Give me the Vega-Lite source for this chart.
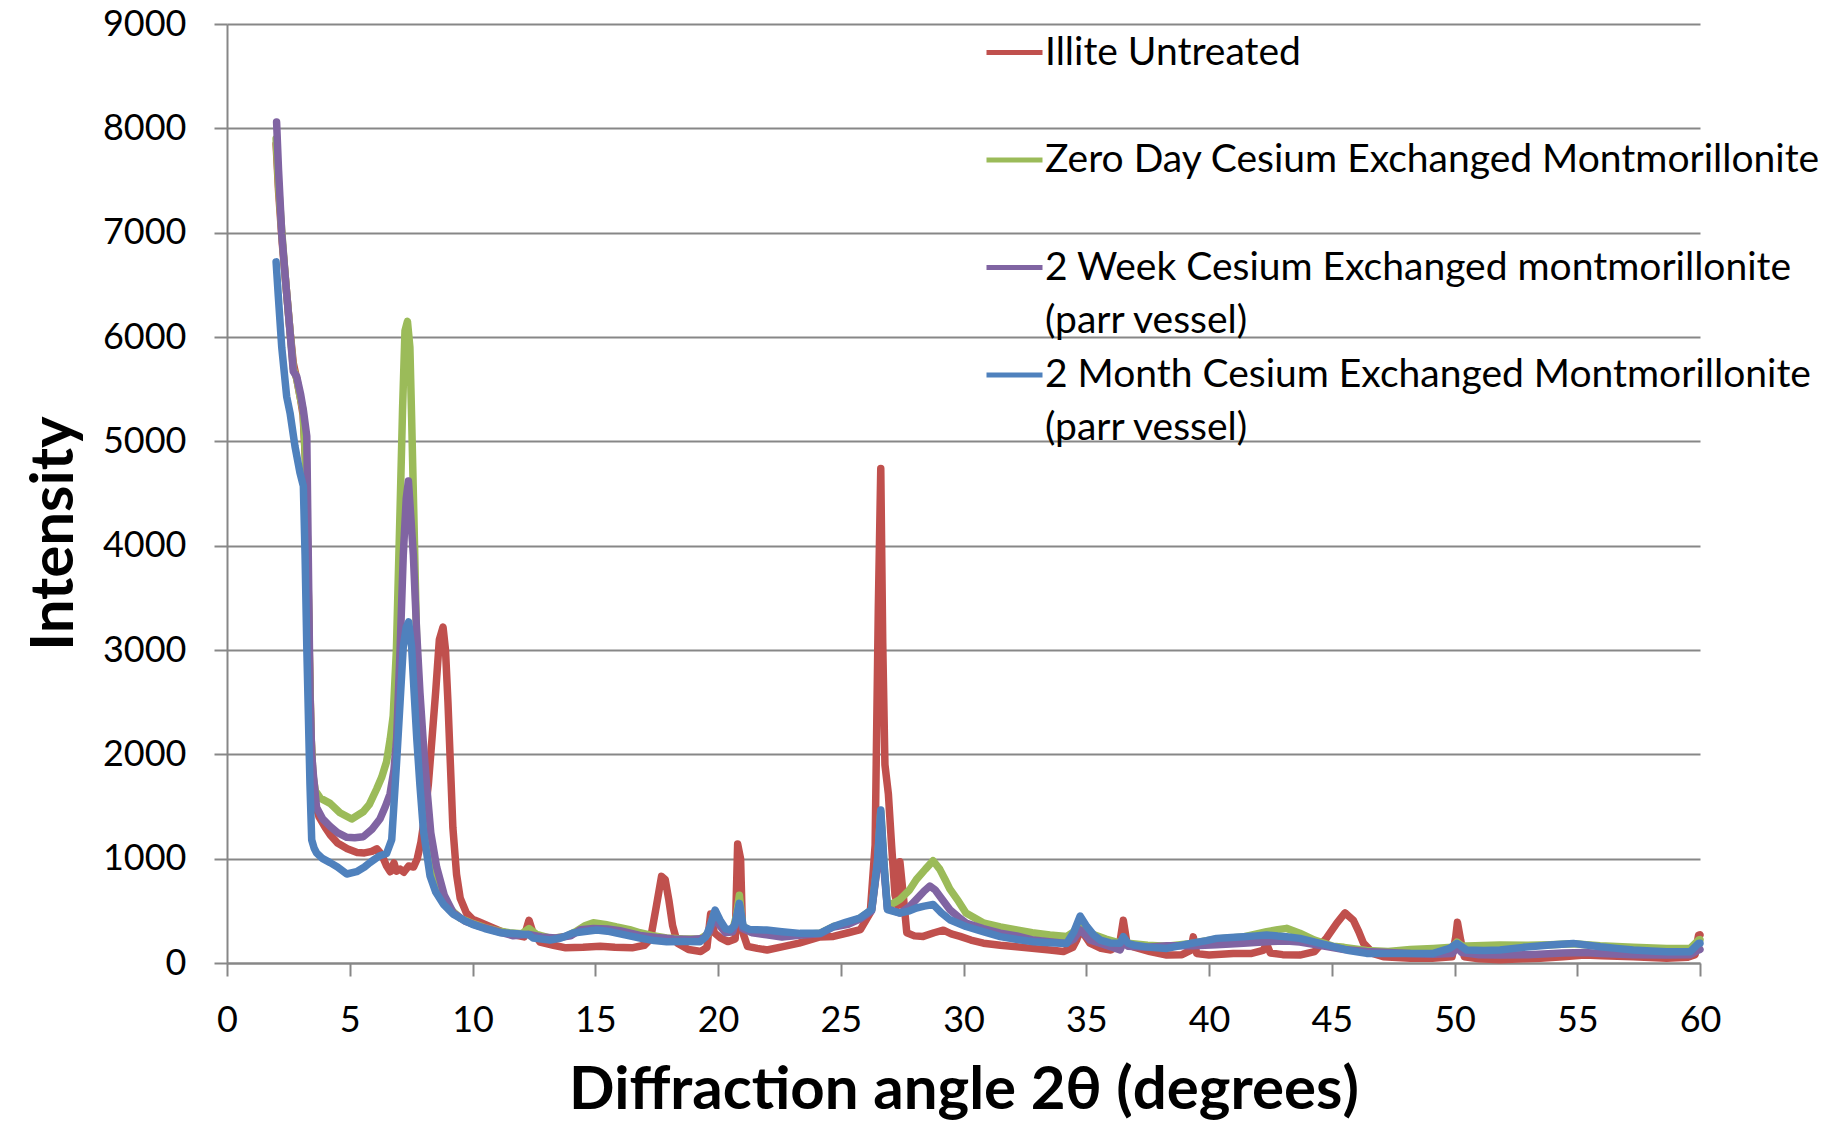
{
  "$schema": "https://vega.github.io/schema/vega-lite/v6.json",
  "width": 1473,
  "height": 939,
  "autosize": {"type": "none"},
  "padding": {"left": 227, "top": 24, "right": 147, "bottom": 158},
  "background": "white",
  "config": {
    "view": {"stroke": null},
    "style": {"guide-label": {"lineHeight": 53}}
  },
  "data": {"values": [
    {"s":"Illite Untreated","x":2.0,"y":7850},{"s":"Illite Untreated","x":2.1,"y":7400},{"s":"Illite Untreated","x":2.25,"y":6900},{"s":"Illite Untreated","x":2.4,"y":6500},{"s":"Illite Untreated","x":2.57,"y":6050},{"s":"Illite Untreated","x":2.7,"y":5750},{"s":"Illite Untreated","x":2.84,"y":5600},{"s":"Illite Untreated","x":3.0,"y":5400},{"s":"Illite Untreated","x":3.1,"y":5250},{"s":"Illite Untreated","x":3.2,"y":4800},{"s":"Illite Untreated","x":3.28,"y":4000},{"s":"Illite Untreated","x":3.35,"y":3000},{"s":"Illite Untreated","x":3.42,"y":2200},{"s":"Illite Untreated","x":3.5,"y":1750},{"s":"Illite Untreated","x":3.6,"y":1520},{"s":"Illite Untreated","x":3.75,"y":1400},{"s":"Illite Untreated","x":4.0,"y":1300},{"s":"Illite Untreated","x":4.2,"y":1230},{"s":"Illite Untreated","x":4.5,"y":1150},{"s":"Illite Untreated","x":4.9,"y":1095},{"s":"Illite Untreated","x":5.3,"y":1060},{"s":"Illite Untreated","x":5.6,"y":1055},{"s":"Illite Untreated","x":5.9,"y":1070},{"s":"Illite Untreated","x":6.1,"y":1095},{"s":"Illite Untreated","x":6.3,"y":1040},{"s":"Illite Untreated","x":6.5,"y":930},{"s":"Illite Untreated","x":6.65,"y":875},{"s":"Illite Untreated","x":6.8,"y":960},{"s":"Illite Untreated","x":6.9,"y":880},{"s":"Illite Untreated","x":7.05,"y":900},{"s":"Illite Untreated","x":7.2,"y":870},{"s":"Illite Untreated","x":7.4,"y":930},{"s":"Illite Untreated","x":7.6,"y":920},{"s":"Illite Untreated","x":7.75,"y":1000},{"s":"Illite Untreated","x":7.9,"y":1160},{"s":"Illite Untreated","x":8.05,"y":1400},{"s":"Illite Untreated","x":8.2,"y":1710},{"s":"Illite Untreated","x":8.35,"y":2150},{"s":"Illite Untreated","x":8.5,"y":2600},{"s":"Illite Untreated","x":8.65,"y":3100},{"s":"Illite Untreated","x":8.8,"y":3220},{"s":"Illite Untreated","x":8.9,"y":3000},{"s":"Illite Untreated","x":9.0,"y":2500},{"s":"Illite Untreated","x":9.1,"y":1900},{"s":"Illite Untreated","x":9.2,"y":1300},{"s":"Illite Untreated","x":9.35,"y":850},{"s":"Illite Untreated","x":9.5,"y":620},{"s":"Illite Untreated","x":9.75,"y":480},{"s":"Illite Untreated","x":10.0,"y":420},{"s":"Illite Untreated","x":10.3,"y":390},{"s":"Illite Untreated","x":10.7,"y":350},{"s":"Illite Untreated","x":11.2,"y":300},{"s":"Illite Untreated","x":11.7,"y":270},{"s":"Illite Untreated","x":12.1,"y":250},{"s":"Illite Untreated","x":12.3,"y":410},{"s":"Illite Untreated","x":12.45,"y":300},{"s":"Illite Untreated","x":12.75,"y":200},{"s":"Illite Untreated","x":13.3,"y":170},{"s":"Illite Untreated","x":13.8,"y":145},{"s":"Illite Untreated","x":14.5,"y":150},{"s":"Illite Untreated","x":15.2,"y":160},{"s":"Illite Untreated","x":15.8,"y":150},{"s":"Illite Untreated","x":16.5,"y":145},{"s":"Illite Untreated","x":17.0,"y":170},{"s":"Illite Untreated","x":17.25,"y":230},{"s":"Illite Untreated","x":17.5,"y":560},{"s":"Illite Untreated","x":17.7,"y":830},{"s":"Illite Untreated","x":17.85,"y":800},{"s":"Illite Untreated","x":18.0,"y":600},{"s":"Illite Untreated","x":18.15,"y":360},{"s":"Illite Untreated","x":18.35,"y":190},{"s":"Illite Untreated","x":18.8,"y":130},{"s":"Illite Untreated","x":19.3,"y":110},{"s":"Illite Untreated","x":19.55,"y":150},{"s":"Illite Untreated","x":19.7,"y":470},{"s":"Illite Untreated","x":19.85,"y":290},{"s":"Illite Untreated","x":20.1,"y":240},{"s":"Illite Untreated","x":20.4,"y":205},{"s":"Illite Untreated","x":20.7,"y":230},{"s":"Illite Untreated","x":20.8,"y":1140},{"s":"Illite Untreated","x":20.92,"y":1000},{"s":"Illite Untreated","x":21.0,"y":300},{"s":"Illite Untreated","x":21.2,"y":160},{"s":"Illite Untreated","x":21.6,"y":140},{"s":"Illite Untreated","x":22.0,"y":125},{"s":"Illite Untreated","x":22.6,"y":155},{"s":"Illite Untreated","x":23.3,"y":190},{"s":"Illite Untreated","x":24.15,"y":250},{"s":"Illite Untreated","x":24.7,"y":255},{"s":"Illite Untreated","x":25.3,"y":290},{"s":"Illite Untreated","x":25.8,"y":320},{"s":"Illite Untreated","x":26.2,"y":480},{"s":"Illite Untreated","x":26.4,"y":1130},{"s":"Illite Untreated","x":26.53,"y":3400},{"s":"Illite Untreated","x":26.63,"y":4740},{"s":"Illite Untreated","x":26.71,"y":3070},{"s":"Illite Untreated","x":26.8,"y":1900},{"s":"Illite Untreated","x":26.94,"y":1620},{"s":"Illite Untreated","x":27.07,"y":1130},{"s":"Illite Untreated","x":27.21,"y":650},{"s":"Illite Untreated","x":27.32,"y":550},{"s":"Illite Untreated","x":27.41,"y":970},{"s":"Illite Untreated","x":27.55,"y":640},{"s":"Illite Untreated","x":27.69,"y":290},{"s":"Illite Untreated","x":28.0,"y":260},{"s":"Illite Untreated","x":28.36,"y":255},{"s":"Illite Untreated","x":28.8,"y":290},{"s":"Illite Untreated","x":29.18,"y":315},{"s":"Illite Untreated","x":29.5,"y":280},{"s":"Illite Untreated","x":29.86,"y":255},{"s":"Illite Untreated","x":30.3,"y":220},{"s":"Illite Untreated","x":30.81,"y":190},{"s":"Illite Untreated","x":31.5,"y":170},{"s":"Illite Untreated","x":32.17,"y":155},{"s":"Illite Untreated","x":32.8,"y":140},{"s":"Illite Untreated","x":33.52,"y":125},{"s":"Illite Untreated","x":34.07,"y":110},{"s":"Illite Untreated","x":34.45,"y":150},{"s":"Illite Untreated","x":34.61,"y":220},{"s":"Illite Untreated","x":34.81,"y":350},{"s":"Illite Untreated","x":34.95,"y":260},{"s":"Illite Untreated","x":35.15,"y":190},{"s":"Illite Untreated","x":35.6,"y":140},{"s":"Illite Untreated","x":36.0,"y":125},{"s":"Illite Untreated","x":36.35,"y":170},{"s":"Illite Untreated","x":36.51,"y":410},{"s":"Illite Untreated","x":36.65,"y":200},{"s":"Illite Untreated","x":36.92,"y":155},{"s":"Illite Untreated","x":37.6,"y":110},{"s":"Illite Untreated","x":38.28,"y":76},{"s":"Illite Untreated","x":38.9,"y":80},{"s":"Illite Untreated","x":39.25,"y":120},{"s":"Illite Untreated","x":39.36,"y":250},{"s":"Illite Untreated","x":39.5,"y":90},{"s":"Illite Untreated","x":40.0,"y":76},{"s":"Illite Untreated","x":40.99,"y":92},{"s":"Illite Untreated","x":41.7,"y":90},{"s":"Illite Untreated","x":42.2,"y":120},{"s":"Illite Untreated","x":42.35,"y":180},{"s":"Illite Untreated","x":42.5,"y":95},{"s":"Illite Untreated","x":43.0,"y":80},{"s":"Illite Untreated","x":43.7,"y":76},{"s":"Illite Untreated","x":44.3,"y":110},{"s":"Illite Untreated","x":44.79,"y":240},{"s":"Illite Untreated","x":45.2,"y":380},{"s":"Illite Untreated","x":45.54,"y":480},{"s":"Illite Untreated","x":45.88,"y":410},{"s":"Illite Untreated","x":46.1,"y":300},{"s":"Illite Untreated","x":46.29,"y":190},{"s":"Illite Untreated","x":46.7,"y":90},{"s":"Illite Untreated","x":47.1,"y":60},{"s":"Illite Untreated","x":48.2,"y":45},{"s":"Illite Untreated","x":49.1,"y":45},{"s":"Illite Untreated","x":49.9,"y":60},{"s":"Illite Untreated","x":50.05,"y":250},{"s":"Illite Untreated","x":50.12,"y":390},{"s":"Illite Untreated","x":50.25,"y":220},{"s":"Illite Untreated","x":50.4,"y":60},{"s":"Illite Untreated","x":51.0,"y":40},{"s":"Illite Untreated","x":51.85,"y":30},{"s":"Illite Untreated","x":52.8,"y":40},{"s":"Illite Untreated","x":53.5,"y":45},{"s":"Illite Untreated","x":54.43,"y":60},{"s":"Illite Untreated","x":55.3,"y":76},{"s":"Illite Untreated","x":56.0,"y":70},{"s":"Illite Untreated","x":57.28,"y":60},{"s":"Illite Untreated","x":58.64,"y":45},{"s":"Illite Untreated","x":59.5,"y":55},{"s":"Illite Untreated","x":59.8,"y":80},{"s":"Illite Untreated","x":59.94,"y":265},{"s":"Illite Untreated","x":60.0,"y":270},

    {"s":"Zero Day Cesium Exchanged Montmorillonite","x":2.0,"y":7900},{"s":"Zero Day Cesium Exchanged Montmorillonite","x":2.1,"y":7450},{"s":"Zero Day Cesium Exchanged Montmorillonite","x":2.25,"y":6950},{"s":"Zero Day Cesium Exchanged Montmorillonite","x":2.4,"y":6500},{"s":"Zero Day Cesium Exchanged Montmorillonite","x":2.57,"y":6050},{"s":"Zero Day Cesium Exchanged Montmorillonite","x":2.7,"y":5700},{"s":"Zero Day Cesium Exchanged Montmorillonite","x":2.84,"y":5600},{"s":"Zero Day Cesium Exchanged Montmorillonite","x":3.0,"y":5400},{"s":"Zero Day Cesium Exchanged Montmorillonite","x":3.1,"y":5300},{"s":"Zero Day Cesium Exchanged Montmorillonite","x":3.2,"y":4800},{"s":"Zero Day Cesium Exchanged Montmorillonite","x":3.28,"y":4000},{"s":"Zero Day Cesium Exchanged Montmorillonite","x":3.35,"y":3000},{"s":"Zero Day Cesium Exchanged Montmorillonite","x":3.42,"y":2200},{"s":"Zero Day Cesium Exchanged Montmorillonite","x":3.5,"y":1800},{"s":"Zero Day Cesium Exchanged Montmorillonite","x":3.6,"y":1650},{"s":"Zero Day Cesium Exchanged Montmorillonite","x":3.8,"y":1580},{"s":"Zero Day Cesium Exchanged Montmorillonite","x":4.2,"y":1530},{"s":"Zero Day Cesium Exchanged Montmorillonite","x":4.6,"y":1440},{"s":"Zero Day Cesium Exchanged Montmorillonite","x":5.08,"y":1380},{"s":"Zero Day Cesium Exchanged Montmorillonite","x":5.55,"y":1450},{"s":"Zero Day Cesium Exchanged Montmorillonite","x":5.8,"y":1520},{"s":"Zero Day Cesium Exchanged Montmorillonite","x":6.1,"y":1670},{"s":"Zero Day Cesium Exchanged Montmorillonite","x":6.3,"y":1780},{"s":"Zero Day Cesium Exchanged Montmorillonite","x":6.5,"y":1930},{"s":"Zero Day Cesium Exchanged Montmorillonite","x":6.65,"y":2150},{"s":"Zero Day Cesium Exchanged Montmorillonite","x":6.77,"y":2370},{"s":"Zero Day Cesium Exchanged Montmorillonite","x":6.9,"y":3000},{"s":"Zero Day Cesium Exchanged Montmorillonite","x":7.05,"y":4350},{"s":"Zero Day Cesium Exchanged Montmorillonite","x":7.15,"y":5300},{"s":"Zero Day Cesium Exchanged Montmorillonite","x":7.25,"y":6060},{"s":"Zero Day Cesium Exchanged Montmorillonite","x":7.35,"y":6150},{"s":"Zero Day Cesium Exchanged Montmorillonite","x":7.45,"y":5900},{"s":"Zero Day Cesium Exchanged Montmorillonite","x":7.52,"y":5230},{"s":"Zero Day Cesium Exchanged Montmorillonite","x":7.62,"y":4200},{"s":"Zero Day Cesium Exchanged Montmorillonite","x":7.73,"y":3030},{"s":"Zero Day Cesium Exchanged Montmorillonite","x":7.85,"y":2300},{"s":"Zero Day Cesium Exchanged Montmorillonite","x":8.0,"y":1710},{"s":"Zero Day Cesium Exchanged Montmorillonite","x":8.2,"y":1250},{"s":"Zero Day Cesium Exchanged Montmorillonite","x":8.4,"y":960},{"s":"Zero Day Cesium Exchanged Montmorillonite","x":8.7,"y":700},{"s":"Zero Day Cesium Exchanged Montmorillonite","x":9.08,"y":520},{"s":"Zero Day Cesium Exchanged Montmorillonite","x":9.5,"y":430},{"s":"Zero Day Cesium Exchanged Montmorillonite","x":10.0,"y":380},{"s":"Zero Day Cesium Exchanged Montmorillonite","x":10.5,"y":340},{"s":"Zero Day Cesium Exchanged Montmorillonite","x":11.0,"y":310},{"s":"Zero Day Cesium Exchanged Montmorillonite","x":11.5,"y":290},{"s":"Zero Day Cesium Exchanged Montmorillonite","x":12.0,"y":280},{"s":"Zero Day Cesium Exchanged Montmorillonite","x":12.3,"y":330},{"s":"Zero Day Cesium Exchanged Montmorillonite","x":12.6,"y":275},{"s":"Zero Day Cesium Exchanged Montmorillonite","x":13.2,"y":235},{"s":"Zero Day Cesium Exchanged Montmorillonite","x":13.8,"y":255},{"s":"Zero Day Cesium Exchanged Montmorillonite","x":14.2,"y":300},{"s":"Zero Day Cesium Exchanged Montmorillonite","x":14.6,"y":360},{"s":"Zero Day Cesium Exchanged Montmorillonite","x":14.92,"y":385},{"s":"Zero Day Cesium Exchanged Montmorillonite","x":15.4,"y":370},{"s":"Zero Day Cesium Exchanged Montmorillonite","x":15.87,"y":345},{"s":"Zero Day Cesium Exchanged Montmorillonite","x":16.4,"y":320},{"s":"Zero Day Cesium Exchanged Montmorillonite","x":16.82,"y":290},{"s":"Zero Day Cesium Exchanged Montmorillonite","x":17.3,"y":265},{"s":"Zero Day Cesium Exchanged Montmorillonite","x":17.9,"y":240},{"s":"Zero Day Cesium Exchanged Montmorillonite","x":18.6,"y":230},{"s":"Zero Day Cesium Exchanged Montmorillonite","x":19.27,"y":230},{"s":"Zero Day Cesium Exchanged Montmorillonite","x":19.6,"y":280},{"s":"Zero Day Cesium Exchanged Montmorillonite","x":19.85,"y":480},{"s":"Zero Day Cesium Exchanged Montmorillonite","x":20.0,"y":400},{"s":"Zero Day Cesium Exchanged Montmorillonite","x":20.3,"y":310},{"s":"Zero Day Cesium Exchanged Montmorillonite","x":20.6,"y":320},{"s":"Zero Day Cesium Exchanged Montmorillonite","x":20.75,"y":450},{"s":"Zero Day Cesium Exchanged Montmorillonite","x":20.87,"y":650},{"s":"Zero Day Cesium Exchanged Montmorillonite","x":21.0,"y":360},{"s":"Zero Day Cesium Exchanged Montmorillonite","x":21.3,"y":300},{"s":"Zero Day Cesium Exchanged Montmorillonite","x":21.98,"y":280},{"s":"Zero Day Cesium Exchanged Montmorillonite","x":22.6,"y":255},{"s":"Zero Day Cesium Exchanged Montmorillonite","x":23.3,"y":270},{"s":"Zero Day Cesium Exchanged Montmorillonite","x":24.15,"y":285},{"s":"Zero Day Cesium Exchanged Montmorillonite","x":24.7,"y":350},{"s":"Zero Day Cesium Exchanged Montmorillonite","x":25.3,"y":380},{"s":"Zero Day Cesium Exchanged Montmorillonite","x":25.78,"y":430},{"s":"Zero Day Cesium Exchanged Montmorillonite","x":26.26,"y":510},{"s":"Zero Day Cesium Exchanged Montmorillonite","x":26.49,"y":940},{"s":"Zero Day Cesium Exchanged Montmorillonite","x":26.63,"y":1450},{"s":"Zero Day Cesium Exchanged Montmorillonite","x":26.76,"y":940},{"s":"Zero Day Cesium Exchanged Montmorillonite","x":26.9,"y":546},{"s":"Zero Day Cesium Exchanged Montmorillonite","x":27.2,"y":580},{"s":"Zero Day Cesium Exchanged Montmorillonite","x":27.41,"y":610},{"s":"Zero Day Cesium Exchanged Montmorillonite","x":27.8,"y":700},{"s":"Zero Day Cesium Exchanged Montmorillonite","x":28.08,"y":800},{"s":"Zero Day Cesium Exchanged Montmorillonite","x":28.45,"y":900},{"s":"Zero Day Cesium Exchanged Montmorillonite","x":28.76,"y":980},{"s":"Zero Day Cesium Exchanged Montmorillonite","x":29.03,"y":900},{"s":"Zero Day Cesium Exchanged Montmorillonite","x":29.25,"y":800},{"s":"Zero Day Cesium Exchanged Montmorillonite","x":29.44,"y":710},{"s":"Zero Day Cesium Exchanged Montmorillonite","x":29.8,"y":590},{"s":"Zero Day Cesium Exchanged Montmorillonite","x":30.1,"y":480},{"s":"Zero Day Cesium Exchanged Montmorillonite","x":30.8,"y":385},{"s":"Zero Day Cesium Exchanged Montmorillonite","x":31.5,"y":345},{"s":"Zero Day Cesium Exchanged Montmorillonite","x":32.17,"y":317},{"s":"Zero Day Cesium Exchanged Montmorillonite","x":32.8,"y":290},{"s":"Zero Day Cesium Exchanged Montmorillonite","x":33.52,"y":268},{"s":"Zero Day Cesium Exchanged Montmorillonite","x":34.2,"y":253},{"s":"Zero Day Cesium Exchanged Montmorillonite","x":34.5,"y":300},{"s":"Zero Day Cesium Exchanged Montmorillonite","x":34.75,"y":415},{"s":"Zero Day Cesium Exchanged Montmorillonite","x":35.0,"y":330},{"s":"Zero Day Cesium Exchanged Montmorillonite","x":35.15,"y":286},{"s":"Zero Day Cesium Exchanged Montmorillonite","x":35.8,"y":230},{"s":"Zero Day Cesium Exchanged Montmorillonite","x":36.38,"y":190},{"s":"Zero Day Cesium Exchanged Montmorillonite","x":36.51,"y":240},{"s":"Zero Day Cesium Exchanged Montmorillonite","x":36.7,"y":190},{"s":"Zero Day Cesium Exchanged Montmorillonite","x":37.5,"y":170},{"s":"Zero Day Cesium Exchanged Montmorillonite","x":38.28,"y":160},{"s":"Zero Day Cesium Exchanged Montmorillonite","x":39.36,"y":190},{"s":"Zero Day Cesium Exchanged Montmorillonite","x":40.31,"y":230},{"s":"Zero Day Cesium Exchanged Montmorillonite","x":41.4,"y":250},{"s":"Zero Day Cesium Exchanged Montmorillonite","x":42.35,"y":300},{"s":"Zero Day Cesium Exchanged Montmorillonite","x":42.8,"y":320},{"s":"Zero Day Cesium Exchanged Montmorillonite","x":43.16,"y":332},{"s":"Zero Day Cesium Exchanged Montmorillonite","x":43.7,"y":285},{"s":"Zero Day Cesium Exchanged Montmorillonite","x":44.3,"y":220},{"s":"Zero Day Cesium Exchanged Montmorillonite","x":45.06,"y":160},{"s":"Zero Day Cesium Exchanged Montmorillonite","x":45.5,"y":150},{"s":"Zero Day Cesium Exchanged Montmorillonite","x":46.42,"y":120},{"s":"Zero Day Cesium Exchanged Montmorillonite","x":47.3,"y":110},{"s":"Zero Day Cesium Exchanged Montmorillonite","x":48.2,"y":130},{"s":"Zero Day Cesium Exchanged Montmorillonite","x":49.14,"y":140},{"s":"Zero Day Cesium Exchanged Montmorillonite","x":49.9,"y":150},{"s":"Zero Day Cesium Exchanged Montmorillonite","x":50.1,"y":200},{"s":"Zero Day Cesium Exchanged Montmorillonite","x":50.3,"y":165},{"s":"Zero Day Cesium Exchanged Montmorillonite","x":50.5,"y":164},{"s":"Zero Day Cesium Exchanged Montmorillonite","x":51.85,"y":172},{"s":"Zero Day Cesium Exchanged Montmorillonite","x":53.0,"y":170},{"s":"Zero Day Cesium Exchanged Montmorillonite","x":53.89,"y":175},{"s":"Zero Day Cesium Exchanged Montmorillonite","x":54.84,"y":185},{"s":"Zero Day Cesium Exchanged Montmorillonite","x":55.93,"y":165},{"s":"Zero Day Cesium Exchanged Montmorillonite","x":57.28,"y":150},{"s":"Zero Day Cesium Exchanged Montmorillonite","x":58.64,"y":140},{"s":"Zero Day Cesium Exchanged Montmorillonite","x":59.6,"y":140},{"s":"Zero Day Cesium Exchanged Montmorillonite","x":59.94,"y":220},{"s":"Zero Day Cesium Exchanged Montmorillonite","x":60.0,"y":225},

    {"s":"2 Week Cesium Exchanged montmorillonite (parr vessel)","x":2.02,"y":8060},{"s":"2 Week Cesium Exchanged montmorillonite (parr vessel)","x":2.1,"y":7600},{"s":"2 Week Cesium Exchanged montmorillonite (parr vessel)","x":2.23,"y":6990},{"s":"2 Week Cesium Exchanged montmorillonite (parr vessel)","x":2.4,"y":6500},{"s":"2 Week Cesium Exchanged montmorillonite (parr vessel)","x":2.57,"y":6040},{"s":"2 Week Cesium Exchanged montmorillonite (parr vessel)","x":2.7,"y":5670},{"s":"2 Week Cesium Exchanged montmorillonite (parr vessel)","x":2.84,"y":5620},{"s":"2 Week Cesium Exchanged montmorillonite (parr vessel)","x":3.0,"y":5450},{"s":"2 Week Cesium Exchanged montmorillonite (parr vessel)","x":3.11,"y":5300},{"s":"2 Week Cesium Exchanged montmorillonite (parr vessel)","x":3.25,"y":5050},{"s":"2 Week Cesium Exchanged montmorillonite (parr vessel)","x":3.31,"y":3910},{"s":"2 Week Cesium Exchanged montmorillonite (parr vessel)","x":3.38,"y":2590},{"s":"2 Week Cesium Exchanged montmorillonite (parr vessel)","x":3.45,"y":2000},{"s":"2 Week Cesium Exchanged montmorillonite (parr vessel)","x":3.52,"y":1800},{"s":"2 Week Cesium Exchanged montmorillonite (parr vessel)","x":3.65,"y":1490},{"s":"2 Week Cesium Exchanged montmorillonite (parr vessel)","x":3.9,"y":1380},{"s":"2 Week Cesium Exchanged montmorillonite (parr vessel)","x":4.2,"y":1310},{"s":"2 Week Cesium Exchanged montmorillonite (parr vessel)","x":4.5,"y":1250},{"s":"2 Week Cesium Exchanged montmorillonite (parr vessel)","x":4.88,"y":1205},{"s":"2 Week Cesium Exchanged montmorillonite (parr vessel)","x":5.2,"y":1200},{"s":"2 Week Cesium Exchanged montmorillonite (parr vessel)","x":5.55,"y":1210},{"s":"2 Week Cesium Exchanged montmorillonite (parr vessel)","x":5.9,"y":1280},{"s":"2 Week Cesium Exchanged montmorillonite (parr vessel)","x":6.23,"y":1380},{"s":"2 Week Cesium Exchanged montmorillonite (parr vessel)","x":6.45,"y":1500},{"s":"2 Week Cesium Exchanged montmorillonite (parr vessel)","x":6.64,"y":1620},{"s":"2 Week Cesium Exchanged montmorillonite (parr vessel)","x":6.8,"y":1850},{"s":"2 Week Cesium Exchanged montmorillonite (parr vessel)","x":6.91,"y":2150},{"s":"2 Week Cesium Exchanged montmorillonite (parr vessel)","x":7.05,"y":3000},{"s":"2 Week Cesium Exchanged montmorillonite (parr vessel)","x":7.18,"y":3910},{"s":"2 Week Cesium Exchanged montmorillonite (parr vessel)","x":7.3,"y":4450},{"s":"2 Week Cesium Exchanged montmorillonite (parr vessel)","x":7.39,"y":4620},{"s":"2 Week Cesium Exchanged montmorillonite (parr vessel)","x":7.48,"y":4300},{"s":"2 Week Cesium Exchanged montmorillonite (parr vessel)","x":7.59,"y":3910},{"s":"2 Week Cesium Exchanged montmorillonite (parr vessel)","x":7.72,"y":3200},{"s":"2 Week Cesium Exchanged montmorillonite (parr vessel)","x":7.86,"y":2590},{"s":"2 Week Cesium Exchanged montmorillonite (parr vessel)","x":8.0,"y":2100},{"s":"2 Week Cesium Exchanged montmorillonite (parr vessel)","x":8.13,"y":1710},{"s":"2 Week Cesium Exchanged montmorillonite (parr vessel)","x":8.3,"y":1250},{"s":"2 Week Cesium Exchanged montmorillonite (parr vessel)","x":8.54,"y":920},{"s":"2 Week Cesium Exchanged montmorillonite (parr vessel)","x":8.85,"y":650},{"s":"2 Week Cesium Exchanged montmorillonite (parr vessel)","x":9.22,"y":480},{"s":"2 Week Cesium Exchanged montmorillonite (parr vessel)","x":9.7,"y":400},{"s":"2 Week Cesium Exchanged montmorillonite (parr vessel)","x":10.3,"y":350},{"s":"2 Week Cesium Exchanged montmorillonite (parr vessel)","x":10.9,"y":310},{"s":"2 Week Cesium Exchanged montmorillonite (parr vessel)","x":11.66,"y":260},{"s":"2 Week Cesium Exchanged montmorillonite (parr vessel)","x":12.3,"y":275},{"s":"2 Week Cesium Exchanged montmorillonite (parr vessel)","x":12.8,"y":250},{"s":"2 Week Cesium Exchanged montmorillonite (parr vessel)","x":13.4,"y":240},{"s":"2 Week Cesium Exchanged montmorillonite (parr vessel)","x":14.0,"y":260},{"s":"2 Week Cesium Exchanged montmorillonite (parr vessel)","x":14.4,"y":320},{"s":"2 Week Cesium Exchanged montmorillonite (parr vessel)","x":14.92,"y":330},{"s":"2 Week Cesium Exchanged montmorillonite (parr vessel)","x":15.5,"y":325},{"s":"2 Week Cesium Exchanged montmorillonite (parr vessel)","x":16.0,"y":310},{"s":"2 Week Cesium Exchanged montmorillonite (parr vessel)","x":16.82,"y":265},{"s":"2 Week Cesium Exchanged montmorillonite (parr vessel)","x":17.5,"y":245},{"s":"2 Week Cesium Exchanged montmorillonite (parr vessel)","x":18.2,"y":230},{"s":"2 Week Cesium Exchanged montmorillonite (parr vessel)","x":18.9,"y":225},{"s":"2 Week Cesium Exchanged montmorillonite (parr vessel)","x":19.4,"y":235},{"s":"2 Week Cesium Exchanged montmorillonite (parr vessel)","x":19.65,"y":300},{"s":"2 Week Cesium Exchanged montmorillonite (parr vessel)","x":19.85,"y":450},{"s":"2 Week Cesium Exchanged montmorillonite (parr vessel)","x":20.0,"y":380},{"s":"2 Week Cesium Exchanged montmorillonite (parr vessel)","x":20.3,"y":290},{"s":"2 Week Cesium Exchanged montmorillonite (parr vessel)","x":20.6,"y":300},{"s":"2 Week Cesium Exchanged montmorillonite (parr vessel)","x":20.75,"y":420},{"s":"2 Week Cesium Exchanged montmorillonite (parr vessel)","x":20.87,"y":560},{"s":"2 Week Cesium Exchanged montmorillonite (parr vessel)","x":21.0,"y":330},{"s":"2 Week Cesium Exchanged montmorillonite (parr vessel)","x":21.4,"y":290},{"s":"2 Week Cesium Exchanged montmorillonite (parr vessel)","x":21.98,"y":270},{"s":"2 Week Cesium Exchanged montmorillonite (parr vessel)","x":22.6,"y":250},{"s":"2 Week Cesium Exchanged montmorillonite (parr vessel)","x":23.3,"y":265},{"s":"2 Week Cesium Exchanged montmorillonite (parr vessel)","x":24.15,"y":280},{"s":"2 Week Cesium Exchanged montmorillonite (parr vessel)","x":24.7,"y":345},{"s":"2 Week Cesium Exchanged montmorillonite (parr vessel)","x":25.3,"y":370},{"s":"2 Week Cesium Exchanged montmorillonite (parr vessel)","x":25.78,"y":420},{"s":"2 Week Cesium Exchanged montmorillonite (parr vessel)","x":26.26,"y":500},{"s":"2 Week Cesium Exchanged montmorillonite (parr vessel)","x":26.49,"y":930},{"s":"2 Week Cesium Exchanged montmorillonite (parr vessel)","x":26.63,"y":1400},{"s":"2 Week Cesium Exchanged montmorillonite (parr vessel)","x":26.76,"y":900},{"s":"2 Week Cesium Exchanged montmorillonite (parr vessel)","x":26.9,"y":520},{"s":"2 Week Cesium Exchanged montmorillonite (parr vessel)","x":27.41,"y":479},{"s":"2 Week Cesium Exchanged montmorillonite (parr vessel)","x":27.8,"y":540},{"s":"2 Week Cesium Exchanged montmorillonite (parr vessel)","x":28.08,"y":609},{"s":"2 Week Cesium Exchanged montmorillonite (parr vessel)","x":28.4,"y":690},{"s":"2 Week Cesium Exchanged montmorillonite (parr vessel)","x":28.63,"y":738},{"s":"2 Week Cesium Exchanged montmorillonite (parr vessel)","x":28.85,"y":700},{"s":"2 Week Cesium Exchanged montmorillonite (parr vessel)","x":29.03,"y":642},{"s":"2 Week Cesium Exchanged montmorillonite (parr vessel)","x":29.44,"y":512},{"s":"2 Week Cesium Exchanged montmorillonite (parr vessel)","x":29.8,"y":440},{"s":"2 Week Cesium Exchanged montmorillonite (parr vessel)","x":30.1,"y":383},{"s":"2 Week Cesium Exchanged montmorillonite (parr vessel)","x":30.8,"y":330},{"s":"2 Week Cesium Exchanged montmorillonite (parr vessel)","x":31.5,"y":286},{"s":"2 Week Cesium Exchanged montmorillonite (parr vessel)","x":32.17,"y":260},{"s":"2 Week Cesium Exchanged montmorillonite (parr vessel)","x":32.85,"y":220},{"s":"2 Week Cesium Exchanged montmorillonite (parr vessel)","x":33.5,"y":205},{"s":"2 Week Cesium Exchanged montmorillonite (parr vessel)","x":34.2,"y":188},{"s":"2 Week Cesium Exchanged montmorillonite (parr vessel)","x":34.5,"y":230},{"s":"2 Week Cesium Exchanged montmorillonite (parr vessel)","x":34.75,"y":317},{"s":"2 Week Cesium Exchanged montmorillonite (parr vessel)","x":35.0,"y":260},{"s":"2 Week Cesium Exchanged montmorillonite (parr vessel)","x":35.15,"y":220},{"s":"2 Week Cesium Exchanged montmorillonite (parr vessel)","x":35.8,"y":170},{"s":"2 Week Cesium Exchanged montmorillonite (parr vessel)","x":36.38,"y":125},{"s":"2 Week Cesium Exchanged montmorillonite (parr vessel)","x":36.51,"y":200},{"s":"2 Week Cesium Exchanged montmorillonite (parr vessel)","x":36.7,"y":160},{"s":"2 Week Cesium Exchanged montmorillonite (parr vessel)","x":37.5,"y":150},{"s":"2 Week Cesium Exchanged montmorillonite (parr vessel)","x":38.28,"y":165},{"s":"2 Week Cesium Exchanged montmorillonite (parr vessel)","x":39.36,"y":165},{"s":"2 Week Cesium Exchanged montmorillonite (parr vessel)","x":40.31,"y":175},{"s":"2 Week Cesium Exchanged montmorillonite (parr vessel)","x":41.4,"y":190},{"s":"2 Week Cesium Exchanged montmorillonite (parr vessel)","x":42.35,"y":204},{"s":"2 Week Cesium Exchanged montmorillonite (parr vessel)","x":43.16,"y":210},{"s":"2 Week Cesium Exchanged montmorillonite (parr vessel)","x":43.7,"y":200},{"s":"2 Week Cesium Exchanged montmorillonite (parr vessel)","x":44.5,"y":170},{"s":"2 Week Cesium Exchanged montmorillonite (parr vessel)","x":45.5,"y":130},{"s":"2 Week Cesium Exchanged montmorillonite (parr vessel)","x":46.42,"y":110},{"s":"2 Week Cesium Exchanged montmorillonite (parr vessel)","x":47.3,"y":100},{"s":"2 Week Cesium Exchanged montmorillonite (parr vessel)","x":48.2,"y":90},{"s":"2 Week Cesium Exchanged montmorillonite (parr vessel)","x":49.14,"y":85},{"s":"2 Week Cesium Exchanged montmorillonite (parr vessel)","x":49.9,"y":90},{"s":"2 Week Cesium Exchanged montmorillonite (parr vessel)","x":50.1,"y":150},{"s":"2 Week Cesium Exchanged montmorillonite (parr vessel)","x":50.3,"y":100},{"s":"2 Week Cesium Exchanged montmorillonite (parr vessel)","x":51.0,"y":80},{"s":"2 Week Cesium Exchanged montmorillonite (parr vessel)","x":51.85,"y":76},{"s":"2 Week Cesium Exchanged montmorillonite (parr vessel)","x":53.0,"y":80},{"s":"2 Week Cesium Exchanged montmorillonite (parr vessel)","x":54.43,"y":95},{"s":"2 Week Cesium Exchanged montmorillonite (parr vessel)","x":55.3,"y":100},{"s":"2 Week Cesium Exchanged montmorillonite (parr vessel)","x":55.93,"y":90},{"s":"2 Week Cesium Exchanged montmorillonite (parr vessel)","x":57.28,"y":80},{"s":"2 Week Cesium Exchanged montmorillonite (parr vessel)","x":58.64,"y":76},{"s":"2 Week Cesium Exchanged montmorillonite (parr vessel)","x":59.6,"y":80},{"s":"2 Week Cesium Exchanged montmorillonite (parr vessel)","x":59.94,"y":124},{"s":"2 Week Cesium Exchanged montmorillonite (parr vessel)","x":60.0,"y":130},

    {"s":"2 Month Cesium Exchanged Montmorillonite (parr vessel)","x":2.0,"y":6720},{"s":"2 Month Cesium Exchanged Montmorillonite (parr vessel)","x":2.09,"y":6390},{"s":"2 Month Cesium Exchanged Montmorillonite (parr vessel)","x":2.23,"y":5900},{"s":"2 Month Cesium Exchanged Montmorillonite (parr vessel)","x":2.43,"y":5430},{"s":"2 Month Cesium Exchanged Montmorillonite (parr vessel)","x":2.57,"y":5270},{"s":"2 Month Cesium Exchanged Montmorillonite (parr vessel)","x":2.77,"y":4950},{"s":"2 Month Cesium Exchanged Montmorillonite (parr vessel)","x":2.97,"y":4700},{"s":"2 Month Cesium Exchanged Montmorillonite (parr vessel)","x":3.11,"y":4570},{"s":"2 Month Cesium Exchanged Montmorillonite (parr vessel)","x":3.18,"y":3910},{"s":"2 Month Cesium Exchanged Montmorillonite (parr vessel)","x":3.25,"y":3030},{"s":"2 Month Cesium Exchanged Montmorillonite (parr vessel)","x":3.38,"y":1710},{"s":"2 Month Cesium Exchanged Montmorillonite (parr vessel)","x":3.45,"y":1180},{"s":"2 Month Cesium Exchanged Montmorillonite (parr vessel)","x":3.55,"y":1100},{"s":"2 Month Cesium Exchanged Montmorillonite (parr vessel)","x":3.65,"y":1054},{"s":"2 Month Cesium Exchanged Montmorillonite (parr vessel)","x":3.9,"y":1000},{"s":"2 Month Cesium Exchanged Montmorillonite (parr vessel)","x":4.2,"y":962},{"s":"2 Month Cesium Exchanged Montmorillonite (parr vessel)","x":4.5,"y":920},{"s":"2 Month Cesium Exchanged Montmorillonite (parr vessel)","x":4.88,"y":853},{"s":"2 Month Cesium Exchanged Montmorillonite (parr vessel)","x":5.28,"y":875},{"s":"2 Month Cesium Exchanged Montmorillonite (parr vessel)","x":5.6,"y":920},{"s":"2 Month Cesium Exchanged Montmorillonite (parr vessel)","x":5.82,"y":962},{"s":"2 Month Cesium Exchanged Montmorillonite (parr vessel)","x":6.05,"y":1000},{"s":"2 Month Cesium Exchanged Montmorillonite (parr vessel)","x":6.23,"y":1028},{"s":"2 Month Cesium Exchanged Montmorillonite (parr vessel)","x":6.5,"y":1050},{"s":"2 Month Cesium Exchanged Montmorillonite (parr vessel)","x":6.71,"y":1183},{"s":"2 Month Cesium Exchanged Montmorillonite (parr vessel)","x":6.91,"y":1930},{"s":"2 Month Cesium Exchanged Montmorillonite (parr vessel)","x":7.05,"y":2500},{"s":"2 Month Cesium Exchanged Montmorillonite (parr vessel)","x":7.18,"y":3030},{"s":"2 Month Cesium Exchanged Montmorillonite (parr vessel)","x":7.3,"y":3220},{"s":"2 Month Cesium Exchanged Montmorillonite (parr vessel)","x":7.4,"y":3270},{"s":"2 Month Cesium Exchanged Montmorillonite (parr vessel)","x":7.52,"y":3030},{"s":"2 Month Cesium Exchanged Montmorillonite (parr vessel)","x":7.62,"y":2600},{"s":"2 Month Cesium Exchanged Montmorillonite (parr vessel)","x":7.73,"y":2150},{"s":"2 Month Cesium Exchanged Montmorillonite (parr vessel)","x":7.86,"y":1700},{"s":"2 Month Cesium Exchanged Montmorillonite (parr vessel)","x":8.0,"y":1270},{"s":"2 Month Cesium Exchanged Montmorillonite (parr vessel)","x":8.27,"y":834},{"s":"2 Month Cesium Exchanged Montmorillonite (parr vessel)","x":8.5,"y":680},{"s":"2 Month Cesium Exchanged Montmorillonite (parr vessel)","x":8.81,"y":565},{"s":"2 Month Cesium Exchanged Montmorillonite (parr vessel)","x":9.2,"y":470},{"s":"2 Month Cesium Exchanged Montmorillonite (parr vessel)","x":9.63,"y":412},{"s":"2 Month Cesium Exchanged Montmorillonite (parr vessel)","x":10.0,"y":370},{"s":"2 Month Cesium Exchanged Montmorillonite (parr vessel)","x":10.5,"y":330},{"s":"2 Month Cesium Exchanged Montmorillonite (parr vessel)","x":11.12,"y":290},{"s":"2 Month Cesium Exchanged Montmorillonite (parr vessel)","x":11.8,"y":280},{"s":"2 Month Cesium Exchanged Montmorillonite (parr vessel)","x":12.3,"y":270},{"s":"2 Month Cesium Exchanged Montmorillonite (parr vessel)","x":12.47,"y":240},{"s":"2 Month Cesium Exchanged Montmorillonite (parr vessel)","x":13.16,"y":220},{"s":"2 Month Cesium Exchanged Montmorillonite (parr vessel)","x":13.6,"y":240},{"s":"2 Month Cesium Exchanged Montmorillonite (parr vessel)","x":14.1,"y":287},{"s":"2 Month Cesium Exchanged Montmorillonite (parr vessel)","x":14.5,"y":300},{"s":"2 Month Cesium Exchanged Montmorillonite (parr vessel)","x":15.06,"y":316},{"s":"2 Month Cesium Exchanged Montmorillonite (parr vessel)","x":15.5,"y":305},{"s":"2 Month Cesium Exchanged Montmorillonite (parr vessel)","x":15.87,"y":287},{"s":"2 Month Cesium Exchanged Montmorillonite (parr vessel)","x":16.4,"y":260},{"s":"2 Month Cesium Exchanged Montmorillonite (parr vessel)","x":16.82,"y":240},{"s":"2 Month Cesium Exchanged Montmorillonite (parr vessel)","x":17.4,"y":215},{"s":"2 Month Cesium Exchanged Montmorillonite (parr vessel)","x":17.91,"y":204},{"s":"2 Month Cesium Exchanged Montmorillonite (parr vessel)","x":18.6,"y":205},{"s":"2 Month Cesium Exchanged Montmorillonite (parr vessel)","x":19.27,"y":204},{"s":"2 Month Cesium Exchanged Montmorillonite (parr vessel)","x":19.5,"y":250},{"s":"2 Month Cesium Exchanged Montmorillonite (parr vessel)","x":19.67,"y":348},{"s":"2 Month Cesium Exchanged Montmorillonite (parr vessel)","x":19.88,"y":508},{"s":"2 Month Cesium Exchanged Montmorillonite (parr vessel)","x":20.08,"y":412},{"s":"2 Month Cesium Exchanged Montmorillonite (parr vessel)","x":20.3,"y":330},{"s":"2 Month Cesium Exchanged Montmorillonite (parr vessel)","x":20.49,"y":316},{"s":"2 Month Cesium Exchanged Montmorillonite (parr vessel)","x":20.68,"y":360},{"s":"2 Month Cesium Exchanged Montmorillonite (parr vessel)","x":20.76,"y":444},{"s":"2 Month Cesium Exchanged Montmorillonite (parr vessel)","x":20.87,"y":572},{"s":"2 Month Cesium Exchanged Montmorillonite (parr vessel)","x":21.03,"y":348},{"s":"2 Month Cesium Exchanged Montmorillonite (parr vessel)","x":21.3,"y":320},{"s":"2 Month Cesium Exchanged Montmorillonite (parr vessel)","x":21.98,"y":316},{"s":"2 Month Cesium Exchanged Montmorillonite (parr vessel)","x":22.6,"y":300},{"s":"2 Month Cesium Exchanged Montmorillonite (parr vessel)","x":23.34,"y":284},{"s":"2 Month Cesium Exchanged Montmorillonite (parr vessel)","x":24.15,"y":284},{"s":"2 Month Cesium Exchanged Montmorillonite (parr vessel)","x":24.7,"y":350},{"s":"2 Month Cesium Exchanged Montmorillonite (parr vessel)","x":25.2,"y":390},{"s":"2 Month Cesium Exchanged Montmorillonite (parr vessel)","x":25.78,"y":431},{"s":"2 Month Cesium Exchanged Montmorillonite (parr vessel)","x":26.26,"y":512},{"s":"2 Month Cesium Exchanged Montmorillonite (parr vessel)","x":26.49,"y":965},{"s":"2 Month Cesium Exchanged Montmorillonite (parr vessel)","x":26.63,"y":1467},{"s":"2 Month Cesium Exchanged Montmorillonite (parr vessel)","x":26.76,"y":965},{"s":"2 Month Cesium Exchanged Montmorillonite (parr vessel)","x":26.9,"y":512},{"s":"2 Month Cesium Exchanged Montmorillonite (parr vessel)","x":27.41,"y":479},{"s":"2 Month Cesium Exchanged Montmorillonite (parr vessel)","x":27.8,"y":500},{"s":"2 Month Cesium Exchanged Montmorillonite (parr vessel)","x":28.08,"y":527},{"s":"2 Month Cesium Exchanged Montmorillonite (parr vessel)","x":28.4,"y":545},{"s":"2 Month Cesium Exchanged Montmorillonite (parr vessel)","x":28.76,"y":561},{"s":"2 Month Cesium Exchanged Montmorillonite (parr vessel)","x":29.1,"y":480},{"s":"2 Month Cesium Exchanged Montmorillonite (parr vessel)","x":29.44,"y":415},{"s":"2 Month Cesium Exchanged Montmorillonite (parr vessel)","x":30.1,"y":350},{"s":"2 Month Cesium Exchanged Montmorillonite (parr vessel)","x":30.8,"y":300},{"s":"2 Month Cesium Exchanged Montmorillonite (parr vessel)","x":31.5,"y":253},{"s":"2 Month Cesium Exchanged Montmorillonite (parr vessel)","x":32.2,"y":225},{"s":"2 Month Cesium Exchanged Montmorillonite (parr vessel)","x":32.85,"y":204},{"s":"2 Month Cesium Exchanged Montmorillonite (parr vessel)","x":33.5,"y":195},{"s":"2 Month Cesium Exchanged Montmorillonite (parr vessel)","x":34.2,"y":188},{"s":"2 Month Cesium Exchanged Montmorillonite (parr vessel)","x":34.5,"y":300},{"s":"2 Month Cesium Exchanged Montmorillonite (parr vessel)","x":34.75,"y":450},{"s":"2 Month Cesium Exchanged Montmorillonite (parr vessel)","x":35.02,"y":350},{"s":"2 Month Cesium Exchanged Montmorillonite (parr vessel)","x":35.3,"y":270},{"s":"2 Month Cesium Exchanged Montmorillonite (parr vessel)","x":35.57,"y":220},{"s":"2 Month Cesium Exchanged Montmorillonite (parr vessel)","x":35.97,"y":192},{"s":"2 Month Cesium Exchanged Montmorillonite (parr vessel)","x":36.38,"y":190},{"s":"2 Month Cesium Exchanged Montmorillonite (parr vessel)","x":36.51,"y":252},{"s":"2 Month Cesium Exchanged Montmorillonite (parr vessel)","x":36.7,"y":190},{"s":"2 Month Cesium Exchanged Montmorillonite (parr vessel)","x":36.92,"y":172},{"s":"2 Month Cesium Exchanged Montmorillonite (parr vessel)","x":37.6,"y":150},{"s":"2 Month Cesium Exchanged Montmorillonite (parr vessel)","x":38.28,"y":140},{"s":"2 Month Cesium Exchanged Montmorillonite (parr vessel)","x":38.8,"y":165},{"s":"2 Month Cesium Exchanged Montmorillonite (parr vessel)","x":39.36,"y":192},{"s":"2 Month Cesium Exchanged Montmorillonite (parr vessel)","x":39.9,"y":215},{"s":"2 Month Cesium Exchanged Montmorillonite (parr vessel)","x":40.31,"y":236},{"s":"2 Month Cesium Exchanged Montmorillonite (parr vessel)","x":40.9,"y":245},{"s":"2 Month Cesium Exchanged Montmorillonite (parr vessel)","x":41.4,"y":252},{"s":"2 Month Cesium Exchanged Montmorillonite (parr vessel)","x":41.9,"y":260},{"s":"2 Month Cesium Exchanged Montmorillonite (parr vessel)","x":42.35,"y":268},{"s":"2 Month Cesium Exchanged Montmorillonite (parr vessel)","x":42.8,"y":258},{"s":"2 Month Cesium Exchanged Montmorillonite (parr vessel)","x":43.16,"y":252},{"s":"2 Month Cesium Exchanged Montmorillonite (parr vessel)","x":43.7,"y":236},{"s":"2 Month Cesium Exchanged Montmorillonite (parr vessel)","x":44.4,"y":195},{"s":"2 Month Cesium Exchanged Montmorillonite (parr vessel)","x":45.06,"y":156},{"s":"2 Month Cesium Exchanged Montmorillonite (parr vessel)","x":45.7,"y":120},{"s":"2 Month Cesium Exchanged Montmorillonite (parr vessel)","x":46.42,"y":92},{"s":"2 Month Cesium Exchanged Montmorillonite (parr vessel)","x":47.3,"y":92},{"s":"2 Month Cesium Exchanged Montmorillonite (parr vessel)","x":48.2,"y":92},{"s":"2 Month Cesium Exchanged Montmorillonite (parr vessel)","x":49.14,"y":92},{"s":"2 Month Cesium Exchanged Montmorillonite (parr vessel)","x":49.8,"y":140},{"s":"2 Month Cesium Exchanged Montmorillonite (parr vessel)","x":50.1,"y":188},{"s":"2 Month Cesium Exchanged Montmorillonite (parr vessel)","x":50.5,"y":124},{"s":"2 Month Cesium Exchanged Montmorillonite (parr vessel)","x":51.2,"y":120},{"s":"2 Month Cesium Exchanged Montmorillonite (parr vessel)","x":51.85,"y":124},{"s":"2 Month Cesium Exchanged Montmorillonite (parr vessel)","x":52.8,"y":150},{"s":"2 Month Cesium Exchanged Montmorillonite (parr vessel)","x":53.89,"y":172},{"s":"2 Month Cesium Exchanged Montmorillonite (parr vessel)","x":54.84,"y":188},{"s":"2 Month Cesium Exchanged Montmorillonite (parr vessel)","x":55.93,"y":156},{"s":"2 Month Cesium Exchanged Montmorillonite (parr vessel)","x":56.6,"y":140},{"s":"2 Month Cesium Exchanged Montmorillonite (parr vessel)","x":57.28,"y":124},{"s":"2 Month Cesium Exchanged Montmorillonite (parr vessel)","x":58.0,"y":115},{"s":"2 Month Cesium Exchanged Montmorillonite (parr vessel)","x":58.64,"y":108},{"s":"2 Month Cesium Exchanged Montmorillonite (parr vessel)","x":59.6,"y":108},{"s":"2 Month Cesium Exchanged Montmorillonite (parr vessel)","x":59.94,"y":188},{"s":"2 Month Cesium Exchanged Montmorillonite (parr vessel)","x":60.0,"y":190}
  ]},
  "mark": {"type": "line", "strokeWidth": 7.5, "strokeJoin": "round", "strokeCap": "round"},
  "encoding": {
    "x": {
      "field": "x", "type": "quantitative",
      "scale": {"domain": [0, 60], "nice": false, "zero": false},
      "axis": {
        "values": [0, 5, 10, 15, 20, 25, 30, 35, 40, 45, 50, 55, 60],
        "format": "d",
        "grid": false,
        "domainColor": "#878787", "domainWidth": 2,
        "tickColor": "#878787", "tickWidth": 2, "tickSize": 13,
        "labelFont": "Lato", "labelFontSize": 36, "labelColor": "#000000",
        "labelPadding": 27, "labelFlush": false, "labelOverlap": false,
        "title": "Diffraction angle 2θ (degrees)",
        "titleFont": "Lato", "titleFontWeight": "bold", "titleFontSize": 60, "titleColor": "#000000",
        "titleBaseline": "alphabetic", "titleY": 145
      }
    },
    "y": {
      "field": "y", "type": "quantitative",
      "scale": {"domain": [0, 9000], "nice": false},
      "axis": {
        "values": [0, 1000, 2000, 3000, 4000, 5000, 6000, 7000, 8000, 9000],
        "format": "d",
        "grid": true, "gridColor": "#878787", "gridWidth": 2,
        "domainColor": "#878787", "domainWidth": 2,
        "tickColor": "#878787", "tickWidth": 2, "tickSize": 13,
        "labelFont": "Lato", "labelFontSize": 36, "labelColor": "#000000",
        "labelPadding": 28, "labelOverlap": false, "labelFlush": false,
        "title": "Intensity",
        "titleFont": "Lato", "titleFontWeight": "bold", "titleFontSize": 60, "titleColor": "#000000",
        "titleAngle": 270, "titleAlign": "center", "titleBaseline": "alphabetic",
        "titleX": -155, "titleY": 509
      }
    },
    "color": {
      "field": "s", "type": "nominal",
      "scale": {
        "domain": ["Illite Untreated", "Zero Day Cesium Exchanged Montmorillonite", "2 Week Cesium Exchanged montmorillonite (parr vessel)", "2 Month Cesium Exchanged Montmorillonite (parr vessel)"],
        "range": ["#C0504D", "#9BBB59", "#8064A2", "#4F81BD"]
      },
      "legend": {
        "orient": "none", "legendX": 757, "legendY": -2,
        "title": null, "padding": 0,
        "symbolType": "stroke", "symbolSize": 3136, "symbolStrokeWidth": 5,
        "labelFont": "Lato", "labelFontSize": 39, "labelColor": "#000000",
        "labelLimit": 2000, "labelOffset": 0, "labelBaseline": "middle",
        "rowPadding": 3.5, "gridAlign": "all",
        "labelExpr": "indexof(datum.label, '(parr') < 0 ? [datum.label, ''] : split(replace(datum.label, ' (parr', '|(parr'), '|')"
      }
    }
  }
}
